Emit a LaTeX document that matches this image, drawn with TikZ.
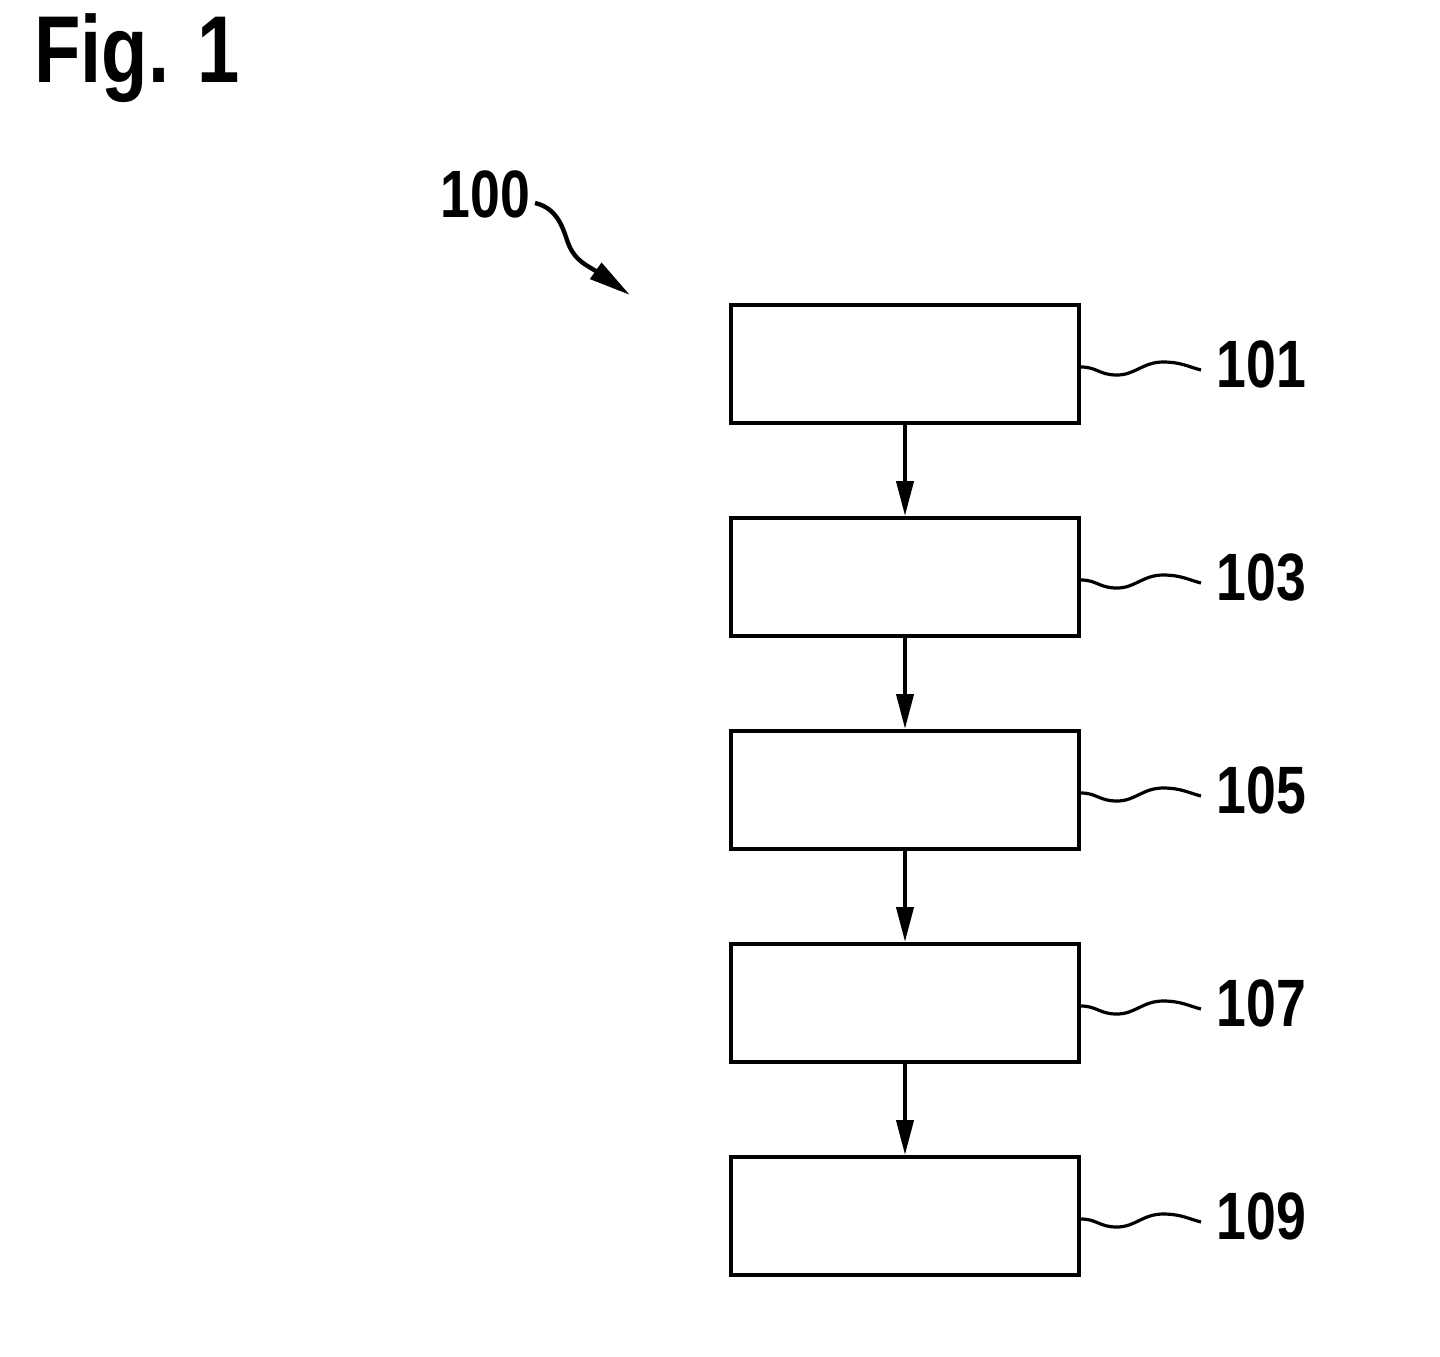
\documentclass[tikz,border=0pt]{standalone}
\usepackage{fontspec}
\newfontfamily\labfont[FakeStretch=0.8]{Liberation Sans}
\usetikzlibrary{arrows.meta}
\begin{document}
\begin{tikzpicture}[x=0.5pt,y=-0.5pt,
  stepbox/.style={draw, line width=2pt, minimum width=174pt, minimum height=59pt, inner sep=0pt},
  flow/.style={line width=2pt, -{Triangle[length=17.5pt,width=8.5pt]}},
  lead/.style={line width=1.6pt},
  reflabel/.style={anchor=west, inner sep=0pt, font=\labfont\bfseries\fontsize{33.5pt}{40pt}\selectfont}]
\useasboundingbox (0,0) rectangle (1440,1356);
\node[anchor=base west, inner sep=0pt, font=\labfont\bfseries\fontsize{47.5pt}{56pt}\selectfont] (fig) at (34,82) {Fig. 1};
\node[reflabel] (l100) at (440,194) {100};
\coordinate (c100) at (535,203);
\coordinate (t100) at (630,295);
\draw[line width=2.2pt, -{Triangle[length=21pt,width=9.5pt]}] (c100) .. controls (556,208) and (562,225) .. (567,240) .. controls (573,258) and (582,263) .. (596,271) -- (t100);
\foreach \i/\y/\n in {1/364/101, 2/577/103, 3/790/105, 4/1003/107, 5/1216/109} {
  \node[stepbox] (b\i) at (905,\y) {};
  \node[reflabel] (l\i) at (1216,\y) {\n};
  \draw[lead] ([yshift=-1.5pt]b\i.east) .. controls +(16,0) and +(-18,0) .. ++(36,8) .. controls +(18,0) and +(-20,0) .. ++(46,-13) .. controls +(18,0) and +(-12,-3) .. ++(38,8);
}
\foreach \a/\b in {1/2, 2/3, 3/4, 4/5}
  \draw[flow] (b\a.south) -- (b\b.north);
\end{tikzpicture}
\end{document}
